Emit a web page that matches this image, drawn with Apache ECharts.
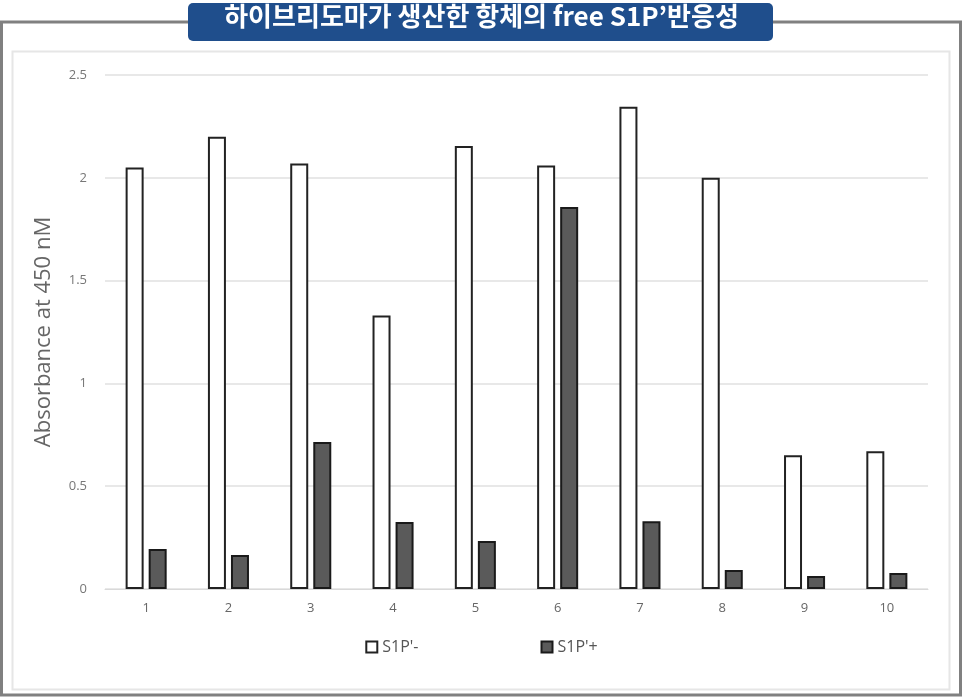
<!DOCTYPE html>
<html><head><meta charset="utf-8">
<script src="https://cdn.jsdelivr.net/npm/echarts@6/dist/echarts.min.js"></script>
<style>html,body{margin:0;padding:0;background:#fff}#c{width:963px;height:698px}</style>
</head><body><div id="c"></div>
<script>
const categories = ['1','2','3','4','5','6','7','8','9','10'];
const s1pMinus = [2.05, 2.20, 2.07, 1.33, 2.155, 2.06, 2.345, 2.00, 0.65, 0.67];
const s1pPlus = [0.195, 0.165, 0.715, 0.326, 0.233, 1.858, 0.33, 0.092, 0.063, 0.078];
const yTicks = [0, 0.5, 1, 1.5, 2, 2.5];
const titleText = "하이브리도마가 생산한 항체의 free S1P’반응성";

const chart = echarts.init(document.getElementById('c'));
chart.setOption({
  animation: false,
  backgroundColor: '#fff',
  graphic: [
    {type:'rect', shape:{x:1.5,y:22,width:959,height:673}, style:{fill:'none', stroke:'#808080', lineWidth:3}, z:0},
    {type:'rect', shape:{x:12.5,y:51.5,width:937,height:638}, style:{fill:'none', stroke:'#e6e6e6', lineWidth:2}, z:0},
    {type:'rect', shape:{x:188,y:3,width:585,height:38,r:5}, style:{fill:'#1f4e8c'}, z:10},
    {type:'text', left:'center', top:3, z:11, style:{text:titleText, fill:'#fff', font:'bold 26px "Noto Sans CJK KR", sans-serif', textAlign:'center'}}
  ],
  grid: {left:105, right:35, top:75, bottom:109},
  legend: {
    data:["S1P'-","S1P'+"], bottom:38, left:'center', itemGap:122,
    itemWidth:11, itemHeight:11, icon:'rect',
    textStyle:{color:'#555', fontSize:16, fontFamily:'"Open Sans", sans-serif'}
  },
  xAxis: {
    type:'category', data:categories,
    axisLine:{lineStyle:{color:'#d9d9d9'}}, axisTick:{show:false},
    axisLabel:{color:'#666', fontSize:13, margin:13, fontFamily:'"Open Sans", sans-serif'}
  },
  yAxis: {
    type:'value', min:0, max:2.5, interval:0.5,
    name:'Absorbance at 450 nM', nameLocation:'middle', nameGap:50,
    nameTextStyle:{color:'#666', fontSize:22, fontFamily:'"Open Sans", sans-serif'},
    axisLine:{show:false}, axisTick:{show:false},
    axisLabel:{color:'#777', fontSize:13, margin:18, fontFamily:'"Open Sans", sans-serif',
      formatter: v => yTicks.includes(v) ? String(v) : ''},
    splitLine:{lineStyle:{color:'#e0e0e0', width:1.5}}
  },
  series: [
    {name:"S1P'-", type:'bar', data:s1pMinus, barWidth:18, barGap:'28%',
     itemStyle:{color:'#ffffff', borderColor:'#222', borderWidth:2}},
    {name:"S1P'+", type:'bar', data:s1pPlus, barWidth:18,
     itemStyle:{color:'#5a5a5a', borderColor:'#1a1a1a', borderWidth:2}}
  ]
});
</script></body></html>
